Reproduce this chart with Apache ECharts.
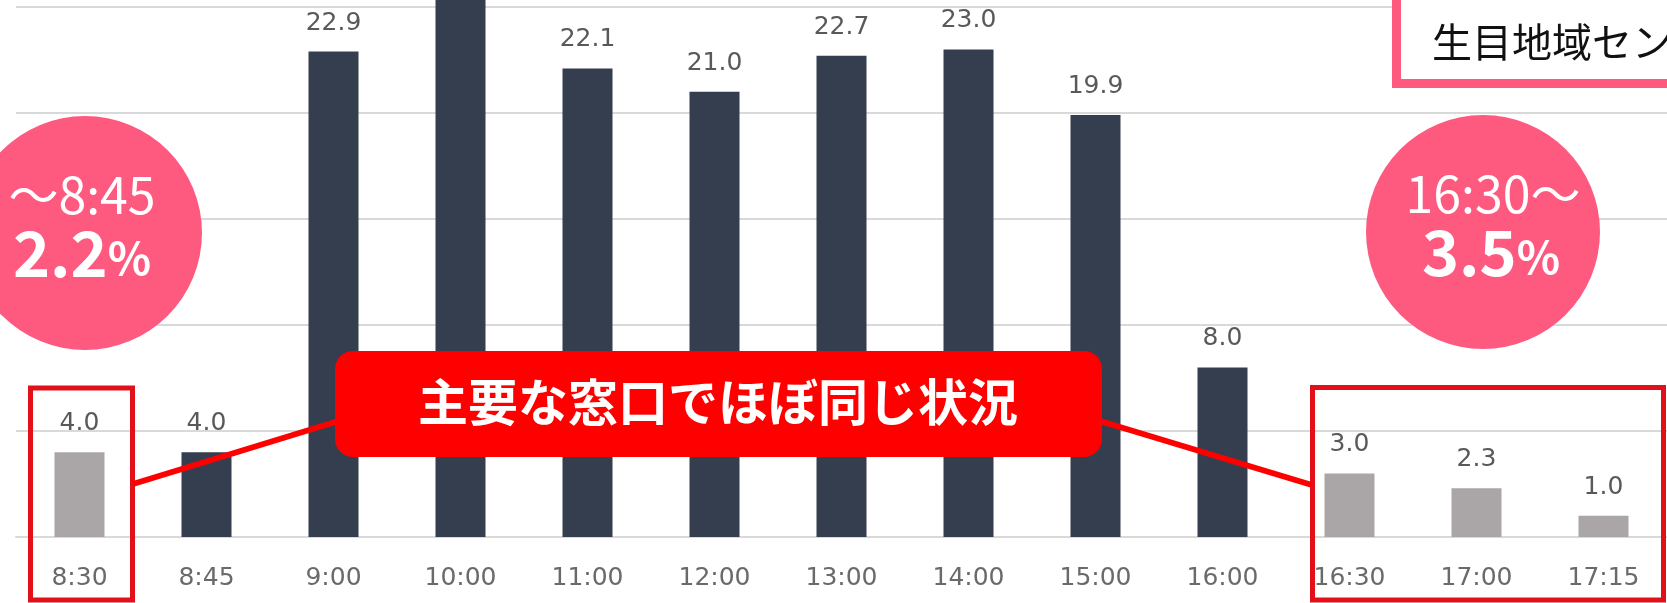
<!DOCTYPE html>
<html>
<head>
<meta charset="utf-8">
<script src="https://cdn.jsdelivr.net/npm/echarts@6/dist/echarts.min.js"></script>
<style>
html,body{margin:0;padding:0;background:#fff;}
#c{width:1667px;height:603px;}
</style>
</head>
<body>
<div id="c"></div>
<script>
// ---- data ----
const categories = ['8:30','8:45','9:00','10:00','11:00','12:00','13:00','14:00','15:00','16:00','16:30','17:00','17:15'];
const values = [4.0, 4.0, 22.9, 27.0, 22.1, 21.0, 22.7, 23.0, 19.9, 8.0, 3.0, 2.3, 1.0];
const offHourCategories = ['8:30','16:30','17:00','17:15'];
const yTicks = [0, 5, 10, 15, 20, 25];
const calloutText = '主要な窓口でほぼ同じ状況';
const earlyLabel = '〜8:45';
const earlyShare = '2.2';
const lateLabel = '16:30〜';
const lateShare = '3.5';
const legendText = '生目地域センター';

// ---- styles ----
const DARK = '#353e4f';
const GRAY = '#aaa6a7';
const PINK = '#fe5a7f';
const RED = '#ff0000';
const BOX_RED = '#e3101a';
const LATIN = '"DejaVu Sans", "Noto Sans", sans-serif';
const CJK = '"Noto Sans CJK JP", "Noto Sans", sans-serif';

const chart = echarts.init(document.getElementById('c'), null, {renderer: 'canvas'});

const barData = categories.map((c, i) => ({
  value: values[i],
  itemStyle: {color: offHourCategories.includes(c) ? GRAY : DARK}
}));

function bubble(cx, cy, line1, share, dx1, dx2) {
  return [
    {type: 'circle', z: 100, shape: {cx: cx, cy: cy, r: 117}, style: {fill: PINK}},
    {type: 'text', z: 101, x: cx + dx1, y: cy - 38, style: {
      text: line1, fill: '#fff', font: '400 50px ' + CJK, align: 'center', verticalAlign: 'middle'}},
    {type: 'text', z: 101, x: cx + dx2, y: cy + 20, style: {
      text: '{n|' + share + '}{p|%}', fill: '#fff', align: 'center', verticalAlign: 'middle',
      rich: {
        n: {font: '700 63px ' + CJK, fill: '#fff'},
        p: {font: '700 45px ' + CJK, fill: '#fff', padding: [10, 0, 0, 0]}
      }}}
  ];
}

const option = {
  backgroundColor: '#ffffff',
  animation: false,
  grid: {left: 16, right: -11, top: 7, bottom: 66, containLabel: false},
  xAxis: {
    type: 'category',
    data: categories,
    axisTick: {show: false},
    axisLine: {show: true, lineStyle: {color: '#d9d9d9', width: 2}},
    axisLabel: {color: '#6a6a6a', fontSize: 25, fontFamily: LATIN, margin: 29}
  },
  yAxis: {
    type: 'value',
    min: yTicks[0],
    max: yTicks[yTicks.length - 1],
    interval: yTicks[1] - yTicks[0],
    axisLabel: {show: false},
    axisLine: {show: false},
    axisTick: {show: false},
    splitLine: {lineStyle: {color: '#d9d9d9', width: 2}}
  },
  series: [{
    type: 'bar',
    data: barData,
    barWidth: 50,
    clip: false,
    label: {
      show: true,
      position: 'top',
      distance: 16,
      color: '#595959',
      fontSize: 25,
      fontFamily: LATIN,
      formatter: p => p.value.toFixed(1)
    }
  }],
  graphic: {
    elements: [
      // legend box (top right, clipped)
      {type: 'rect', z: 100, shape: {x: 1396.5, y: -30, width: 400, height: 113.5},
        style: {fill: '#fff', stroke: PINK, lineWidth: 9}},
      {type: 'text', z: 101, x: 1432, y: 42, style: {
        text: legendText, fill: '#111', font: '400 40px ' + CJK, align: 'left', verticalAlign: 'middle'}},
      // bubbles
      ...bubble(85, 233, earlyLabel, earlyShare, -3, -3),
      ...bubble(1483, 232, lateLabel, lateShare, 10, 8),
      // red boxes around off-hour bars
      {type: 'rect', z: 100, shape: {x: 30.5, y: 388, width: 102, height: 212},
        style: {fill: 'none', stroke: BOX_RED, lineWidth: 5}},
      {type: 'rect', z: 100, shape: {x: 1312.5, y: 387.5, width: 351, height: 212.5},
        style: {fill: 'none', stroke: BOX_RED, lineWidth: 5}},
      // connector lines
      {type: 'line', z: 100, shape: {x1: 133, y1: 484, x2: 345, y2: 419},
        style: {stroke: RED, lineWidth: 6}},
      {type: 'line', z: 100, shape: {x1: 1090, y1: 418, x2: 1312, y2: 485},
        style: {stroke: RED, lineWidth: 6}},
      // callout
      {type: 'rect', z: 102, shape: {x: 335, y: 351, width: 767, height: 106, r: 18},
        style: {fill: RED}},
      {type: 'text', z: 103, x: 718, y: 402, style: {
        text: calloutText, fill: '#fff', font: '700 50px ' + CJK, align: 'center', verticalAlign: 'middle'}}
    ]
  }
};

chart.setOption(option);
</script>
</body>
</html>
